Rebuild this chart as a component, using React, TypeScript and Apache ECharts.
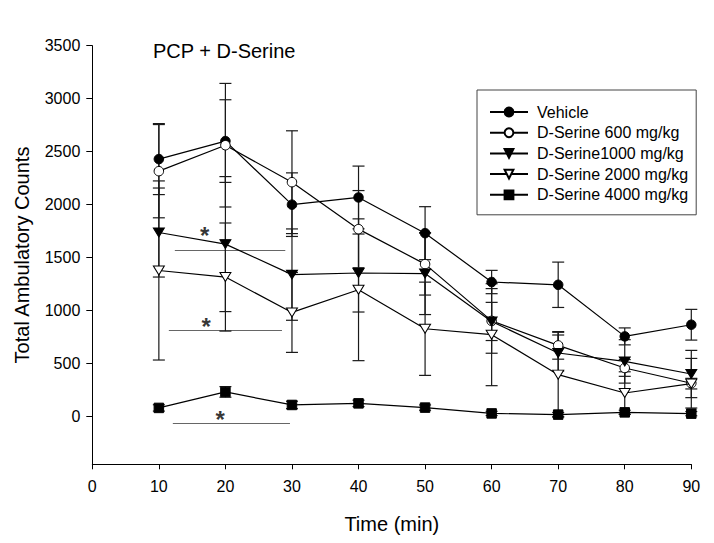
import React, { useEffect, useRef } from "react";
import * as echarts from "echarts";

const times = [10, 20, 30, 40, 50, 60, 70, 80, 90];
const vehicle = [2430, 2600, 2000, 2068, 1731, 1270, 1244, 757, 867];
const vehicleErr = [335, 390, 300, 296, 250, 110, 214, 80, 145];
const ds600 = [2316, 2561, 2212, 1769, 1439, 903, 672, 459, 315];
const ds600Err = [440, 583, 485, 364, 292, 305, 130, 79, 234];
const ds1000 = [1737, 1628, 1340, 1355, 1350, 898, 600, 521, 402];
const ds1000Err = [420, 637, 431, 368, 387, 180, 170, 205, 223];
const ds2000 = [1379, 1317, 983, 1197, 829, 773, 396, 223, 311];
const ds2000Err = [845, 510, 377, 669, 440, 481, 400, 200, 50];
const ds4000 = [82, 233, 110, 125, 85, 30, 19, 40, 28];
const ds4000Err = [30, 50, 35, 30, 25, 20, 20, 20, 20];

const seriesNames = [
  "Vehicle",
  "D-Serine 600 mg/kg",
  "D-Serine1000 mg/kg",
  "D-Serine 2000 mg/kg",
  "D-Serine 4000 mg/kg",
];

const yTicks = [0, 500, 1000, 1500, 2000, 2500, 3000, 3500];
const xTicks = [0, 10, 20, 30, 40, 50, 60, 70, 80, 90];

// significance annotations: [x, y] for stars, [x1, x2, y] for lines
const sigStars = [
  [16.9, 1763],
  [17.1, 905],
  [19.2, 33],
];
const sigLines = [
  [12.4, 29.0, 1574],
  [11.5, 28.5, 811],
  [12.1, 29.7, -66],
];

const FONT = "'Liberation Sans', Arial, Helvetica, sans-serif";
const triDown = "path://M0,0 L10,0 L5,8.66 Z";

export default function App() {
  const ref = useRef<HTMLDivElement>(null);

  useEffect(() => {
    if (!ref.current) return;
    const chart = echarts.init(ref.current, undefined, { renderer: "svg" });

    const groups = [
      { name: seriesNames[0], vals: vehicle, errs: vehicleErr, symbol: "circle", fill: "#000", size: 9.5 },
      { name: seriesNames[1], vals: ds600, errs: ds600Err, symbol: "circle", fill: "#fff", size: 9.5 },
      { name: seriesNames[2], vals: ds1000, errs: ds1000Err, symbol: triDown, fill: "#000", size: [11, 9] },
      { name: seriesNames[3], vals: ds2000, errs: ds2000Err, symbol: triDown, fill: "#fff", size: [11, 9] },
      { name: seriesNames[4], vals: ds4000, errs: ds4000Err, symbol: "rect", fill: "#000", size: 9.5 },
    ];

    const errData: number[][] = [];
    groups.forEach((g) => {
      times.forEach((t, i) => {
        errData.push([t, g.vals[i] - g.errs[i], g.vals[i] + g.errs[i]]);
      });
    });

    const lineSeries = groups.map((g, gi) => ({
      name: g.name,
      type: "line",
      data: times.map((t, i) => [t, g.vals[i]]),
      symbol: g.symbol,
      symbolSize: g.size,
      showSymbol: true,
      z: 10 + gi,
      lineStyle: { color: "#000", width: 1.2 },
      itemStyle: { color: g.fill, borderColor: "#000", borderWidth: 1 },
      emphasis: { disabled: true },
    }));

    const option: any = {
      animation: false,
      backgroundColor: "#fff",
      textStyle: { fontFamily: FONT },
      title: {
        text: "PCP + D-Serine",
        left: 148,
        top: 36,
        textStyle: { fontFamily: FONT, fontSize: 20, fontWeight: "normal", color: "#000" },
      },
      legend: {
        data: seriesNames,
        orient: "vertical",
        left: 477,
        top: 90,
        padding: [14, 8, 12, 12],
        itemGap: 4.7,
        itemWidth: 38,
        itemHeight: 11,
        borderColor: "#444",
        borderWidth: 1,
        selectedMode: false,
        textStyle: { fontFamily: FONT, fontSize: 16, color: "#000", lineHeight: 16, padding: [0, 0, 0, 4] },
      },
      grid: { left: 92.3, right: 22.7, top: 45.7, bottom: 78.7, containLabel: false },
      xAxis: {
        type: "value",
        min: 0,
        max: 90,
        interval: 10,
        name: "Time (min)",
        nameLocation: "middle",
        nameGap: 50,
        nameTextStyle: { fontFamily: FONT, fontSize: 20, color: "#000" },
        axisLine: { show: true, onZero: false, lineStyle: { color: "#000", width: 1 } },
        axisTick: { show: true, length: 5, inside: false, lineStyle: { color: "#000" } },
        axisLabel: {
          fontFamily: FONT,
          fontSize: 16,
          color: "#000",
          margin: 14,
          customValues: xTicks,
          formatter: (v: number) => String(v),
        },
        splitLine: { show: false },
      },
      yAxis: {
        type: "value",
        min: -450,
        max: 3500,
        name: "Total Ambulatory Counts",
        nameLocation: "middle",
        nameGap: 60,
        nameTextStyle: { fontFamily: FONT, fontSize: 20, color: "#000" },
        axisLine: { show: true, onZero: false, lineStyle: { color: "#000", width: 1 } },
        axisTick: { show: true, length: 6, inside: false, lineStyle: { color: "#000" }, customValues: yTicks },
        axisLabel: {
          fontFamily: FONT,
          fontSize: 16,
          color: "#000",
          margin: 12,
          customValues: yTicks,
          formatter: (v: number) => String(v),
        },
        splitLine: { show: false },
      },
      series: [
        {
          name: "errors",
          type: "custom",
          z: 5,
          data: errData,
          encode: { x: 0, y: [1, 2] },
          renderItem: (params: any, api: any) => {
            const x = api.value(0);
            const lo = api.value(1);
            const hi = api.value(2);
            const pTop = api.coord([x, hi]);
            const pBot = api.coord([x, lo]);
            const w = 6;
            const st = { stroke: "#1a1a1a", lineWidth: 1.2 };
            return {
              type: "group",
              children: [
                { type: "line", shape: { x1: pTop[0], y1: pTop[1], x2: pBot[0], y2: pBot[1] }, style: st },
                { type: "line", shape: { x1: pTop[0] - w, y1: pTop[1], x2: pTop[0] + w, y2: pTop[1] }, style: st },
                { type: "line", shape: { x1: pBot[0] - w, y1: pBot[1], x2: pBot[0] + w, y2: pBot[1] }, style: st },
              ],
            };
          },
        },
        ...lineSeries,
        {
          name: "sig",
          type: "scatter",
          z: 20,
          data: sigStars,
          symbolSize: 0,
          itemStyle: { color: "transparent" },
          label: {
            show: true,
            position: "inside",
            formatter: "*",
            fontFamily: FONT,
            fontSize: 24,
            fontWeight: "bold",
            color: "#000",
            offset: [0, 6],
          },
          markLine: {
            silent: true,
            symbol: ["none", "none"],
            label: { show: false },
            lineStyle: { color: "#666", width: 1, type: "solid" },
            data: sigLines.map((l) => [{ coord: [l[0], l[2]] }, { coord: [l[1], l[2]] }]),
          },
        },
      ],
    };

    chart.setOption(option);
    return () => chart.dispose();
  }, []);

  return (
    <div
      ref={ref}
      style={{ position: "fixed", left: 0, top: 0, width: 714, height: 543, background: "#fff" }}
    />
  );
}
